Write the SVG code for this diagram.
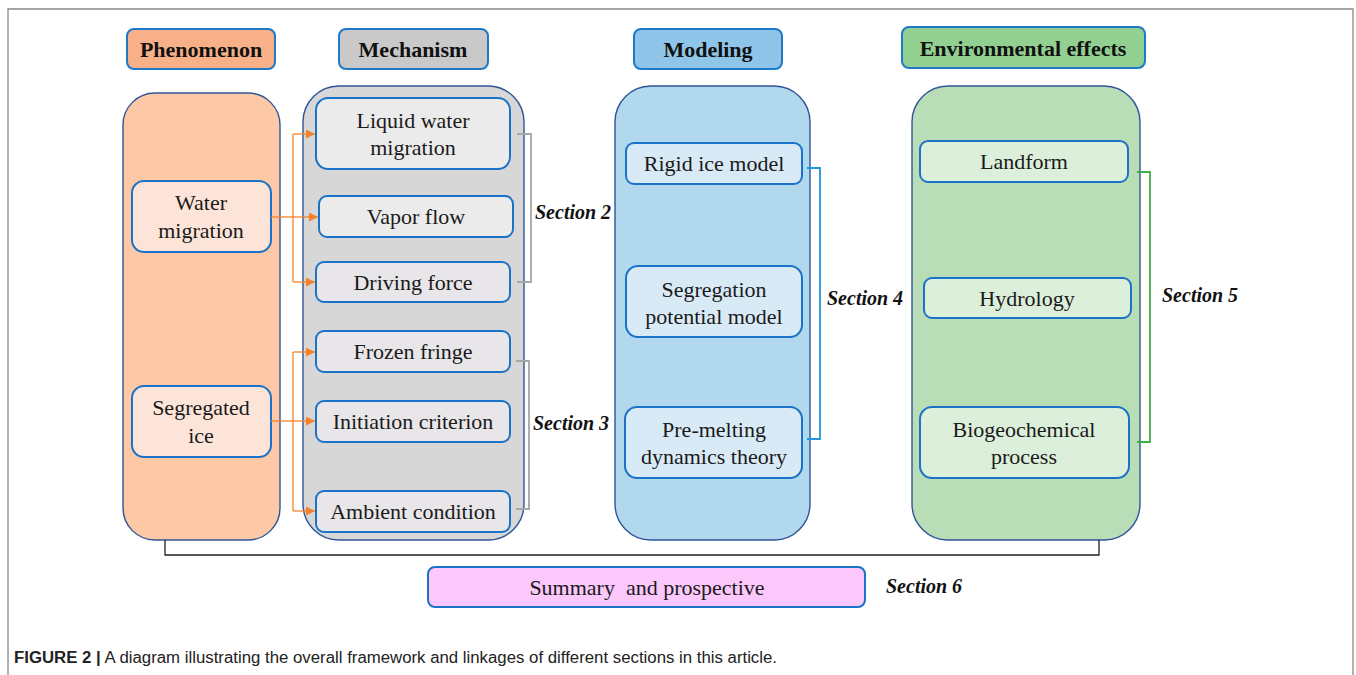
<svg xmlns="http://www.w3.org/2000/svg" width="1356" height="675" viewBox="0 0 1356 675">
<style>
.hdr{stroke:#1f78c8;stroke-width:2}
.cont{stroke:#2f5597;stroke-width:1.4}
.box{stroke:#1a73c8;stroke-width:2}
.ht{font-family:"Liberation Serif",serif;font-weight:bold;font-size:22px;fill:#111;text-anchor:middle}
.t{font-family:"Liberation Serif",serif;font-size:22px;fill:#1a1a1a;text-anchor:middle}
.sec{font-family:"Liberation Serif",serif;font-weight:bold;font-style:italic;font-size:20px;fill:#111}
.or{stroke:#f5822a;stroke-width:1.3;fill:none}
.br{fill:none;stroke-width:1.8}
</style>
<defs>
<marker id="ah" viewBox="0 0 10 10" refX="10" refY="5" markerWidth="9" markerHeight="9" markerUnits="userSpaceOnUse" orient="auto">
<path d="M0,0 L10,5 L0,10 z" fill="#f5822a"/>
</marker>
</defs>
<rect width="1356" height="675" fill="#fff"/>
<path d="M8,675 V9 H1353 V675" fill="none" stroke="#888" stroke-width="1.3"/>

<g id="phenomenon-header"><rect class="hdr" x="127" y="29" width="148" height="40" rx="7" fill="#f8b088"/><text class="ht" x="201" y="57">Phenomenon</text></g>
<g id="mechanism-header"><rect class="hdr" x="339" y="29" width="149" height="40" rx="7" fill="#c9c9c9"/><text class="ht" x="413" y="57">Mechanism</text></g>
<g id="modeling-header"><rect class="hdr" x="634" y="29" width="148" height="40" rx="7" fill="#8ec5e8"/><text class="ht" x="708" y="57">Modeling</text></g>
<g id="env-header"><rect class="hdr" x="902" y="27" width="243" height="41" rx="7" fill="#92d092"/><text class="ht" x="1023" y="56">Environmental effects</text></g>

<g id="phenomenon-col"><rect class="cont" x="123" y="93" width="157" height="447" rx="32" fill="#fcc8a6"/></g>
<g id="mechanism-col"><rect class="cont" x="303" y="86" width="221" height="454" rx="36" fill="#d7d7d7"/></g>
<g id="modeling-col"><rect class="cont" x="615" y="86" width="195" height="454" rx="36" fill="#b1d8ec"/></g>
<g id="env-col"><rect class="cont" x="912" y="86" width="228" height="454" rx="36" fill="#b8ddb7"/></g>

<g id="water-migration"><rect class="box" x="132" y="181" width="139" height="71" rx="12" fill="#fde4d8"/><text class="t" x="201" y="210">Water</text><text class="t" x="201" y="238">migration</text></g>
<g id="segregated-ice"><rect class="box" x="132" y="386" width="139" height="71" rx="12" fill="#fde4d8"/><text class="t" x="201" y="415">Segregated</text><text class="t" x="201" y="443">ice</text></g>

<g id="liquid-water"><rect class="box" x="316" y="98" width="194" height="71" rx="12" fill="#ebebeb"/><text class="t" x="413" y="128">Liquid water</text><text class="t" x="413" y="155">migration</text></g>
<g id="vapor-flow"><rect class="box" x="319" y="196" width="194" height="41" rx="8" fill="#ebebeb"/><text class="t" x="416" y="224">Vapor flow</text></g>
<g id="driving-force"><rect class="box" x="316" y="262" width="194" height="40" rx="8" fill="#e8e6e8"/><text class="t" x="413" y="290">Driving force</text></g>
<g id="frozen-fringe"><rect class="box" x="316" y="331" width="194" height="41" rx="8" fill="#e8e6e8"/><text class="t" x="413" y="359">Frozen fringe</text></g>
<g id="initiation"><rect class="box" x="316" y="401" width="194" height="41" rx="8" fill="#e8e6e8"/><text class="t" x="413" y="429">Initiation criterion</text></g>
<g id="ambient"><rect class="box" x="316" y="491" width="194" height="41" rx="8" fill="#e8e6e8"/><text class="t" x="413" y="519">Ambient condition</text></g>

<g id="rigid-ice"><rect class="box" x="626" y="143" width="176" height="41" rx="8" fill="#d9eaf7"/><text class="t" x="714" y="171">Rigid ice model</text></g>
<g id="segregation-potential"><rect class="box" x="626" y="266" width="176" height="71" rx="12" fill="#d9eaf7"/><text class="t" x="714" y="297">Segregation</text><text class="t" x="714" y="324">potential model</text></g>
<g id="pre-melting"><rect class="box" x="625" y="407" width="177" height="71" rx="12" fill="#d9eaf7"/><text class="t" x="714" y="437">Pre-melting</text><text class="t" x="714" y="464">dynamics theory</text></g>

<g id="landform"><rect class="box" x="920" y="141" width="208" height="41" rx="8" fill="#dcefdb"/><text class="t" x="1024" y="169">Landform</text></g>
<g id="hydrology"><rect class="box" x="924" y="278" width="207" height="40" rx="8" fill="#dcefdb"/><text class="t" x="1027" y="306">Hydrology</text></g>
<g id="biogeochemical"><rect class="box" x="920" y="407" width="209" height="71" rx="12" fill="#dcefdb"/><text class="t" x="1024" y="437">Biogeochemical</text><text class="t" x="1024" y="464">process</text></g>

<g id="summary"><rect class="box" x="428" y="567" width="437" height="40" rx="7" fill="#fcc8fc"/><text class="t" x="647" y="595" font-size="21.5" xml:space="preserve">Summary  and prospective</text></g>

<g id="connectors">
<path class="or" d="M271,217 H293"/>
<path class="or" d="M293,134 V282"/>
<path class="or" d="M293,134 H315" marker-end="url(#ah)"/>
<path class="or" d="M293,217 H318" marker-end="url(#ah)"/>
<path class="or" d="M293,282 H315" marker-end="url(#ah)"/>
<path class="or" d="M271,421 H293"/>
<path class="or" d="M293,352 V511"/>
<path class="or" d="M293,352 H315" marker-end="url(#ah)"/>
<path class="or" d="M293,421 H315" marker-end="url(#ah)"/>
<path class="or" d="M293,511 H315" marker-end="url(#ah)"/>
<path class="br" stroke="#a6a6a6" d="M517,134 H531 V282 H517"/>
<path class="br" stroke="#a6a6a6" d="M516,361 H529 V509 H516"/>
<path class="br" stroke="#2196dc" d="M807,168 H820 V439 H807"/>
<path class="br" stroke="#3cb043" d="M1137,172 H1150 V442 H1137"/>
<path fill="none" stroke="#222" stroke-width="1.3" d="M165,540 V555 H1099 V540"/>
</g>

<text class="sec" x="535" y="219">Section 2</text>
<text class="sec" x="533" y="430">Section 3</text>
<text class="sec" x="827" y="305">Section 4</text>
<text class="sec" x="1162" y="302">Section 5</text>
<text class="sec" x="886" y="593">Section 6</text>

<text x="14" y="663" font-family="'Liberation Sans',Arial,sans-serif" font-size="16" fill="#222" textLength="763" lengthAdjust="spacingAndGlyphs"><tspan font-weight="bold">FIGURE 2 |</tspan> A diagram illustrating the overall framework and linkages of different sections in this article.</text>
</svg>
